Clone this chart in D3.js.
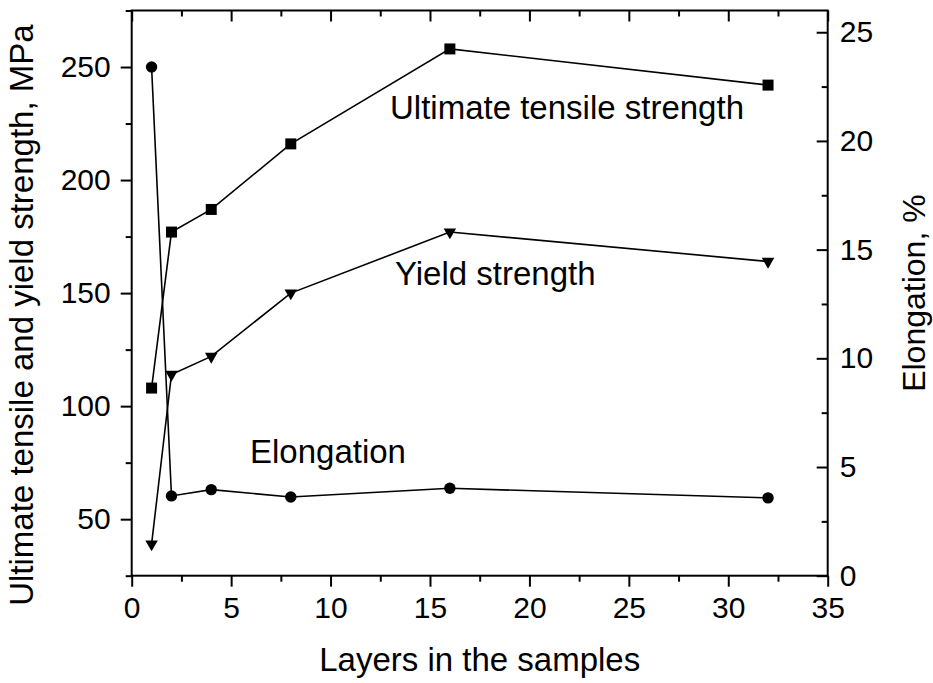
<!DOCTYPE html>
<html>
<head>
<meta charset="utf-8">
<script src="https://cdn.jsdelivr.net/npm/d3@7"></script>
<style>
  html, body { margin: 0; padding: 0; background: #fff; }
  svg { display: block; font-family: "Liberation Sans", Arial, sans-serif; }
</style>
</head>
<body>
<svg id="chart" width="933" height="683"></svg>
<script>
// Number of layers in each sample
const layers = [1, 2, 4, 8, 16, 32];
// Ultimate tensile strength, MPa (left axis)
const uts = [108, 177, 187, 216, 258, 242];
// Yield strength, MPa (left axis)
const yieldStrength = [39, 114, 122, 150, 177, 164];
// Elongation, % (right axis)
const elongation = [23.4, 3.67, 3.96, 3.62, 4.02, 3.58];

// Axis ticks
const xMajor = [0, 5, 10, 15, 20, 25, 30, 35];
const xMinor = [2.5, 7.5, 12.5, 17.5, 22.5, 27.5, 32.5];
const leftMajor = [50, 100, 150, 200, 250];
const leftMinor = [25, 75, 125, 175, 225, 275];
const rightMajor = [0, 5, 10, 15, 20, 25];
const rightMinor = [2.5, 7.5, 12.5, 17.5, 22.5];

const svg = d3.select("#chart");
const L = 131.7, R = 827.7, T = 10.5, B = 575.7;

const x = d3.scaleLinear().domain([0, 35]).range([L, R]);
const yL = d3.scaleLinear().domain([25, 275]).range([B, T]);
const yR = d3.scaleLinear().domain([0, 26]).range([B, T]);

function styleAxis(g, fontSize) {
  g.select(".domain").remove();
  g.selectAll(".tick line").attr("stroke", "#000").attr("stroke-width", 2);
  g.selectAll(".tick text").attr("fill", "#000")
    .style("font-size", fontSize + "px")
    .style("font-family", "'Liberation Sans', Arial, sans-serif");
}

// Bottom axis (outward ticks)
svg.append("g").attr("transform", `translate(0,${B})`)
  .call(d3.axisBottom(x).tickValues(xMajor).tickSize(11).tickPadding(10).tickFormat(d3.format("d")))
  .call(g => styleAxis(g, 30));
svg.append("g").attr("transform", `translate(0,${B})`)
  .call(d3.axisBottom(x).tickValues(xMinor).tickSize(6).tickFormat(""))
  .call(g => styleAxis(g, 30));

// Top axis (inward ticks, no labels)
svg.append("g").attr("transform", `translate(0,${T})`)
  .call(d3.axisTop(x).tickValues(xMajor).tickSize(-11).tickFormat(""))
  .call(g => styleAxis(g, 30));
svg.append("g").attr("transform", `translate(0,${T})`)
  .call(d3.axisTop(x).tickValues(xMinor).tickSize(-6).tickFormat(""))
  .call(g => styleAxis(g, 30));

// Left axis (outward ticks)
svg.append("g").attr("transform", `translate(${L},0)`)
  .call(d3.axisLeft(yL).tickValues(leftMajor).tickSize(11).tickPadding(10).tickFormat(d3.format("d")))
  .call(g => styleAxis(g, 30));
svg.append("g").attr("transform", `translate(${L},0)`)
  .call(d3.axisLeft(yL).tickValues(leftMinor).tickSize(6).tickFormat(""))
  .call(g => styleAxis(g, 30));

// Right axis (inward ticks, labels outside)
svg.append("g").attr("transform", `translate(${R},0)`)
  .call(d3.axisRight(yR).tickValues(rightMajor).tickSizeInner(-11).tickSizeOuter(0).tickPadding(12).tickFormat(d3.format("d")))
  .call(g => styleAxis(g, 30));
svg.append("g").attr("transform", `translate(${R},0)`)
  .call(d3.axisRight(yR).tickValues(rightMinor).tickSizeInner(-6).tickSizeOuter(0).tickFormat(""))
  .call(g => styleAxis(g, 30));

// Plot frame
svg.append("rect")
  .attr("x", L).attr("y", T).attr("width", R - L).attr("height", B - T)
  .attr("fill", "none").attr("stroke", "#000").attr("stroke-width", 2);

// Series
const series = [
  { values: uts, scale: yL, symbol: d3.symbolSquare, size: 121, rotate: 0 },
  { values: yieldStrength, scale: yL, symbol: d3.symbolTriangle, size: 68, rotate: 180 },
  { values: elongation, scale: yR, symbol: d3.symbolCircle, size: 102, rotate: 0 }
];

series.forEach(s => {
  const pts = layers.map((l, i) => [l, s.values[i]]);
  const line = d3.line().x(d => x(d[0])).y(d => s.scale(d[1]));
  svg.append("path").datum(pts)
    .attr("d", line)
    .attr("fill", "none").attr("stroke", "#000").attr("stroke-width", 1.6);
  svg.append("g").selectAll("path").data(pts).join("path")
    .attr("d", d3.symbol().type(s.symbol).size(s.size))
    .attr("transform", d => `translate(${x(d[0])},${s.scale(d[1])}) rotate(${s.rotate})`)
    .attr("fill", "#000");
});

// Series labels
const labelFont = 33;
svg.append("text").attr("x", 390).attr("y", 119).text("Ultimate tensile strength")
  .style("font-size", labelFont + "px").attr("fill", "#000");
svg.append("text").attr("x", 395).attr("y", 285).text("Yield strength")
  .style("font-size", labelFont + "px").attr("fill", "#000");
svg.append("text").attr("x", 250).attr("y", 463).text("Elongation")
  .style("font-size", labelFont + "px").attr("fill", "#000");

// Axis titles
svg.append("text")
  .attr("x", (L + R) / 2).attr("y", 671)
  .attr("text-anchor", "middle")
  .style("font-size", "33px").attr("fill", "#000")
  .text("Layers in the samples");

svg.append("text")
  .attr("transform", `translate(33,${(T + B) / 2 + 22}) rotate(-90)`)
  .attr("text-anchor", "middle")
  .style("font-size", "33px").attr("fill", "#000")
  .text("Ultimate tensile and yield strength, MPa");

svg.append("text")
  .attr("transform", `translate(925,${(T + B) / 2}) rotate(-90)`)
  .attr("text-anchor", "middle")
  .style("font-size", "32px").attr("fill", "#000")
  .text("Elongation, %");
</script>
</body>
</html>
